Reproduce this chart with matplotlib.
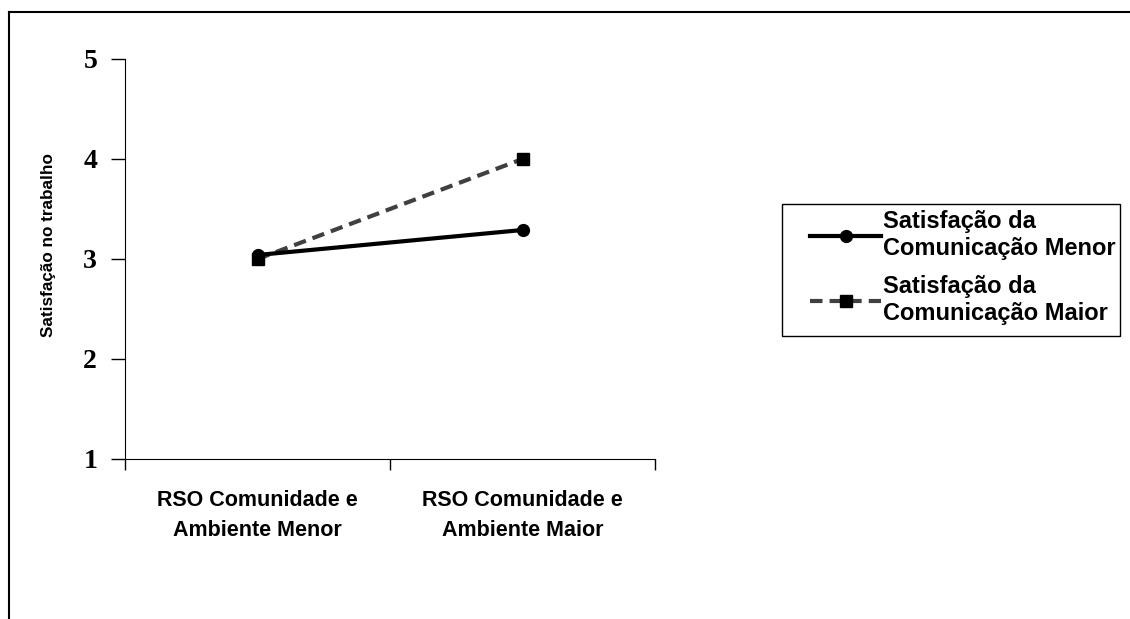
import matplotlib
matplotlib.use("Agg")
import matplotlib.pyplot as plt
from matplotlib.lines import Line2D
from matplotlib.patches import Rectangle

categories = ["RSO Comunidade e\nAmbiente Menor", "RSO Comunidade e\nAmbiente Maior"]
series_names = ["Satisfação da\nComunicação Menor", "Satisfação da\nComunicação Maior"]
menor = [3.04, 3.29]
maior = [3.00, 4.00]
yticks = [1, 2, 3, 4, 5]
ylabel = "Satisfação no trabalho"

fig = plt.figure(figsize=(11.30, 6.19), dpi=100)
ax = fig.add_axes([125/1130, 1-459/619, 530/1130, 400/619])

xpos = [0.5, 1.5]
ax.plot(xpos, menor, color="black", lw=3, marker="o", ms=8.5, label=series_names[0], zorder=3)
ax.plot(xpos, maior, color="#404040", lw=3, ls=(0, (3.0, 1.7)), marker="s", ms=8.5,
        mfc="black", mec="black", label=series_names[1], zorder=2)

ax.set_xlim(0, 2)
ax.set_ylim(1, 5)
ax.set_yticks(yticks)
ax.set_yticklabels([str(v) for v in yticks], fontfamily="Liberation Serif", fontweight="bold", fontsize=20)
ax.set_xticks([0, 1, 2])
ax.set_xticklabels([])
ax.set_xticks(xpos, minor=True)
ax.set_xticklabels(categories, minor=True, fontfamily="Liberation Sans", fontweight="bold",
                   fontsize=15.5, linespacing=1.6)
ax.tick_params(axis="x", which="minor", length=0, pad=22)
ax.tick_params(axis="x", which="major", length=8, direction="out", width=1)
ax.tick_params(axis="y", length=10, direction="out", width=1, pad=10)
for s in ["top", "right"]:
    ax.spines[s].set_visible(False)
ax.set_ylabel(ylabel, fontfamily="Liberation Sans", fontsize=12.3, fontweight="bold")
ax.yaxis.set_label_coords(56/1130, 1-245/619, transform=fig.transFigure)

leg = ax.legend(loc="upper left", bbox_to_anchor=(803/1130, 1-203/619), bbox_transform=fig.transFigure,
                frameon=False, handlelength=3.0,
                prop={"family": "Liberation Sans", "size": 17, "weight": "bold"},
                borderpad=0.3, labelspacing=0.65, handletextpad=0.1, borderaxespad=0)
fig.add_artist(Rectangle((782/1130, 1-336/619), (1120-782)/1130, (336-204)/619,
                         transform=fig.transFigure, fill=False, edgecolor="black", lw=1))

# figure border (top and left visible)
fig.add_artist(Line2D([9/1130, 1], [1-12/619, 1-12/619], color="black", lw=1.5, transform=fig.transFigure))
fig.add_artist(Line2D([9/1130, 9/1130], [0, 1-12/619], color="black", lw=1.5, transform=fig.transFigure))

fig.savefig("out.png", dpi=100)
